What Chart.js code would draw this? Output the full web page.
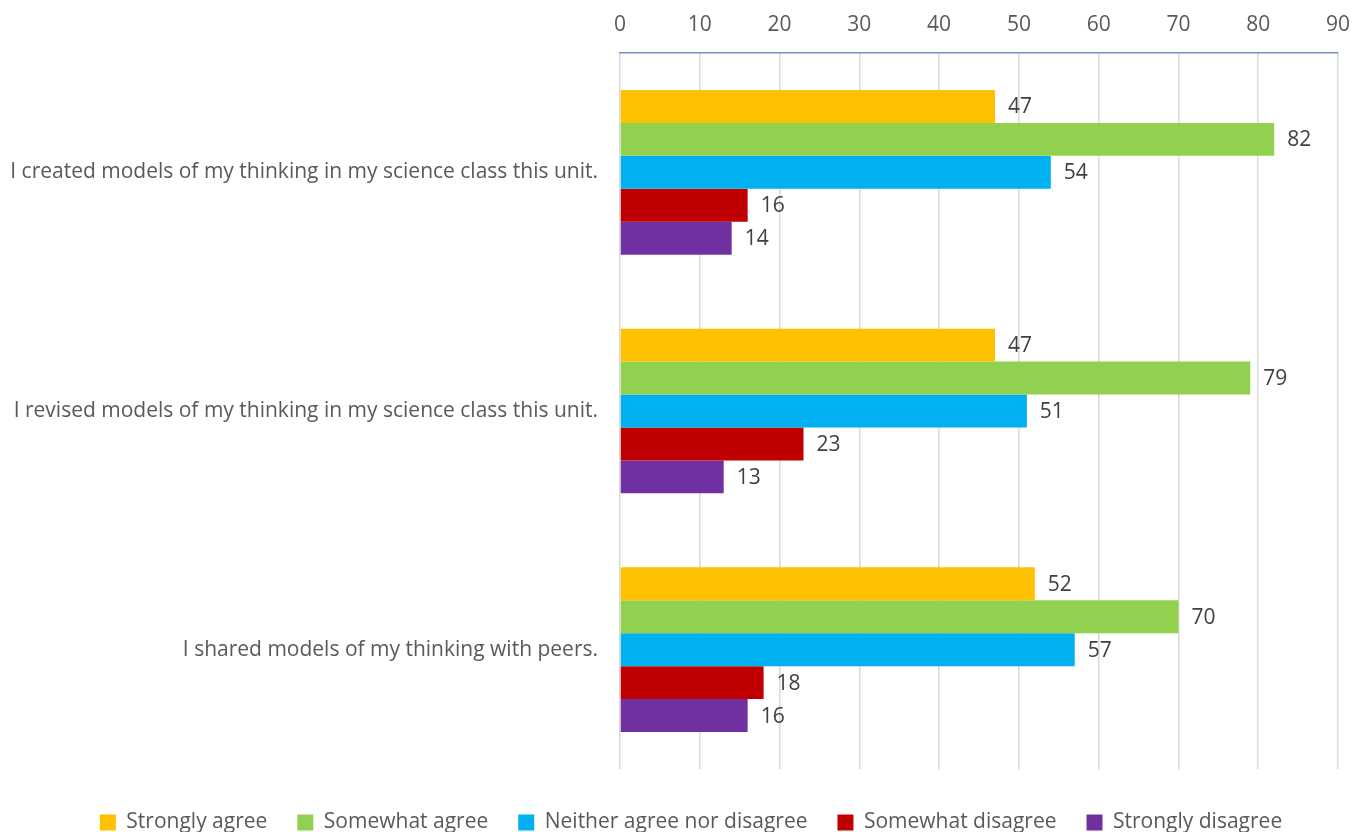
<!DOCTYPE html>
<html>
<head>
<meta charset="utf-8">
<script src="https://cdn.jsdelivr.net/npm/chart.js@4/dist/chart.umd.min.js"></script>
<style>
html,body{margin:0;padding:0;background:#fff;}
#wrap{width:1362px;height:832px;position:relative;}
</style>
</head>
<body>
<div id="wrap"><canvas id="c" width="1362" height="832"></canvas></div>
<script>
const categories = [
  "I created models of my thinking in my science class this unit.",
  "I revised models of my thinking in my science class this unit.",
  "I shared models of my thinking with peers."
];
const seriesNames = ["Strongly agree","Somewhat agree","Neither agree nor disagree","Somewhat disagree","Strongly disagree"];
const stronglyAgree = [47, 47, 52];
const somewhatAgree = [82, 79, 70];
const neither = [54, 51, 57];
const somewhatDisagree = [16, 23, 18];
const stronglyDisagree = [14, 13, 16];
const colors = ["#FFC000","#92D050","#00B0F0","#C00000","#7030A0"];
const xTicks = [0,10,20,30,40,50,60,70,80,90];

const FONT = "'Open Sans', 'Liberation Sans', sans-serif";
const allSeries = [stronglyAgree, somewhatAgree, neither, somewhatDisagree, stronglyDisagree];

const labelPlugin = {
  id: 'barLabels',
  afterDatasetsDraw(chart) {
    const ctx = chart.ctx;
    ctx.save();
    ctx.font = "21px " + FONT;
    ctx.fillStyle = "#404040";
    ctx.textAlign = "left";
    ctx.textBaseline = "middle";
    chart.data.datasets.forEach((ds, i) => {
      const meta = chart.getDatasetMeta(i);
      meta.data.forEach((bar, j) => {
        ctx.fillText(String(ds.data[j]), bar.x + 13, bar.y + 1);
      });
    });
    ctx.restore();
  }
};

const legendShift = {
  id: 'legendShift',
  afterLayout(chart) {
    if (chart.legend) {
      chart.legend.top += 13; chart.legend.bottom += 13;
      chart.legend.left += 22; chart.legend.right += 22;
    }
  }
};

new Chart(document.getElementById('c'), {
  type: 'bar',
  data: {
    labels: categories,
    datasets: seriesNames.map((n, i) => ({
      label: n,
      data: allSeries[i],
      backgroundColor: colors[i],
      borderWidth: 0,
      categoryPercentage: 0.69,
      barPercentage: 1.0
    }))
  },
  options: {
    indexAxis: 'y',
    responsive: false,
    animation: false,
    layout: { padding: { left: 0, right: 24, top: 8, bottom: 2 } },
    scales: {
      x: {
        position: 'top',
        min: 0, max: 90,
        afterBuildTicks(scale) { scale.ticks = xTicks.map(v => ({value: v})); },
        ticks: { color: "#595959", font: { family: FONT, size: 21 }, padding: 15 },
        grid: { color: "#D9D9D9", lineWidth: 1.5, drawTicks: false },
        border: { display: true, color: "#6F92C8", width: 1.5 },
        afterFit(scale) { scale.height = 45; scale.paddingRight = 0; scale.paddingLeft = 0; }
      },
      y: {
        ticks: { color: "#595959", font: { family: FONT, size: 21 }, padding: 22 },
        grid: { display: false, drawTicks: false },
        border: { display: false },
        afterFit(scale) { scale.width = 620; }
      }
    },
    plugins: {
      legend: {
        position: 'bottom',
        labels: {
          color: "#595959",
          font: { family: FONT, size: 21 },
          boxWidth: 16, boxHeight: 16,
          padding: 30
        }
      },
      tooltip: { enabled: false }
    }
  },
  plugins: [labelPlugin, legendShift]
});
</script>
</body>
</html>
